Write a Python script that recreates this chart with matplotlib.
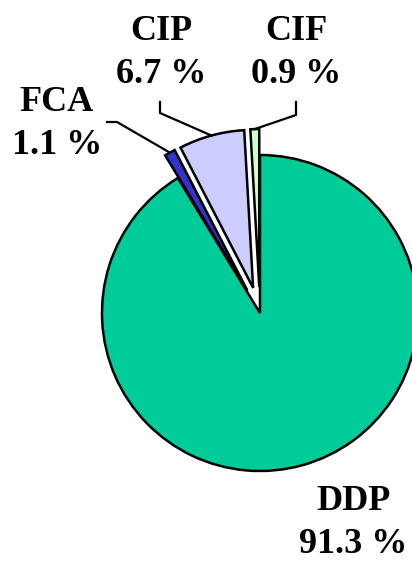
import numpy as np
import matplotlib.pyplot as plt

labels = ['DDP', 'FCA', 'CIP', 'CIF']
shares = [91.3, 1.1, 6.7, 0.9]
colors = ['#00CC99', '#3333CC', '#CCCCFF', '#CCFFCC']
explode = [0, 26, 26, 26]  # pixels

W, H = 412, 563
fig = plt.figure(figsize=(W / 100, H / 100), dpi=100)
ax = fig.add_axes([0, 0, 1, 1])

cx, cy, r = 260, H - 313, 158
# pie explode is in data units here, i.e. pixels
wedges, _ = ax.pie(shares, colors=colors, startangle=90, counterclock=False,
                   explode=explode, center=(cx, cy), radius=r,
                   wedgeprops=dict(edgecolor='black', linewidth=1.8))
ax.set_xlim(0, W)
ax.set_ylim(0, H)
ax.set_aspect('equal')
ax.axis('off')

font = dict(family='Liberation Serif', weight='bold', size=26,
            ha='center', va='center', linespacing=1.42)

# label positions (pixels from top-left) and leader elbow points
label_pos = {'DDP': (353, 523), 'FCA': (57, 124), 'CIP': (161, 53), 'CIF': (296, 53)}
elbows = {'FCA': [(107, 122), (117, 122)],
          'CIP': [(160, 102), (160, 113)],
          'CIF': [(296, 102), (296, 115)]}

for w, lab, val in zip(wedges, labels, shares):
    x, y = label_pos[lab]
    ax.text(x, H - y, '{0}\n{1} %'.format(lab, val), **font)
    if lab in elbows:
        mid = np.deg2rad((w.theta1 + w.theta2) / 2)
        ex, ey = w.center
        px, py = ex + w.r * np.cos(mid), ey + w.r * np.sin(mid)
        pts = [(a, H - b) for a, b in elbows[lab]] + [(px, py)]
        ax.plot([p[0] for p in pts], [p[1] for p in pts], color='black', lw=1.6)

fig.savefig('out.png', dpi=100)
